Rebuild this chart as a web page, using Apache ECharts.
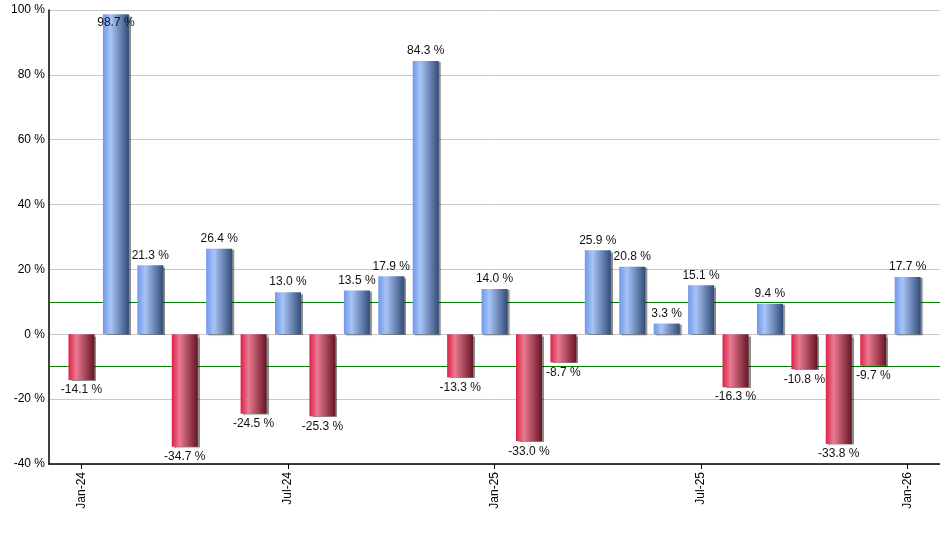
<!DOCTYPE html>
<html>
<head>
<meta charset="utf-8">
<script src="https://cdn.jsdelivr.net/npm/echarts@6/dist/echarts.min.js"></script>
<style>
html,body{margin:0;padding:0;background:#fff;}
#c{width:940px;height:550px;}
</style>
</head>
<body>
<div id="c"></div>
<script>
var months = ['Jan-24','Feb-24','Mar-24','Apr-24','May-24','Jun-24','Jul-24','Aug-24','Sep-24','Oct-24','Nov-24','Dec-24',
  'Jan-25','Feb-25','Mar-25','Apr-25','May-25','Jun-25','Jul-25','Aug-25','Sep-25','Oct-25','Nov-25','Dec-25','Jan-26'];
var values = [-14.1, 98.7, 21.3, -34.7, 26.4, -24.5, 13.0, -25.3, 13.5, 17.9, 84.3, -13.3, 14.0,
  -33.0, -8.7, 25.9, 20.8, 3.3, 15.1, -16.3, 9.4, -10.8, -33.8, -9.7, 17.7];
var tickMonths = ['Jan-24','Jul-24','Jan-25','Jul-25','Jan-26'];
var yTicks = [-40, -20, 0, 20, 40, 60, 80, 100];
var refLines = [10, -10];

var font = 'Liberation Sans, Arial, sans-serif';
var blueGrad = new echarts.graphic.LinearGradient(0,0,1,0,[
  {offset:0,color:'#6f98ea'},{offset:0.3,color:'#a8c4f6'},{offset:1,color:'#324c78'}]);
var redGrad = new echarts.graphic.LinearGradient(0,0,1,0,[
  {offset:0,color:'#dc2048'},{offset:0.3,color:'#ea7a90'},{offset:1,color:'#661424'}]);

var data = values.map(function(v, i){
  var item = {value:[i, v], itemStyle:{color: v >= 0 ? blueGrad : redGrad}};
  if (v > 90) item.label = {position:'insideTop', distance:2};
  else item.label = {position: v >= 0 ? 'top' : 'bottom'};
  return item;
});
var tickIdx = tickMonths.map(function(m){ return months.indexOf(m); });

var chart = echarts.init(document.getElementById('c'), null, {renderer:'canvas'});
chart.setOption({
  animation:false,
  grid:{left:49, right:0, top:10, bottom:86, containLabel:false},
  xAxis:{
    type:'value', min:-0.944, max:24.94,
    splitLine:{show:false},
    axisLine:{show:true, onZero:false, lineStyle:{color:'#000', width:1.5}},
    axisTick:{show:true, customValues:tickIdx, length:5, lineStyle:{color:'#000'}},
    axisLabel:{customValues:tickIdx, rotate:90, margin:8, color:'#000', fontFamily:font, fontSize:12,
      formatter:function(v){ return months[Math.round(v)]; }}
  },
  yAxis:{
    type:'value', min:yTicks[0], max:yTicks[yTicks.length-1], interval:20,
    axisLine:{show:true, onZero:false, lineStyle:{color:'#000', width:1.5}},
    axisTick:{show:false},
    splitLine:{show:true, lineStyle:{color:'#c8c8c8', width:1}},
    axisLabel:{margin:4, color:'#000', fontFamily:font, fontSize:12,
      formatter:function(v){ return v + ' %'; }}
  },
  series:[{
    type:'bar', barWidth:26, z:3,
    data:data,
    itemStyle:{shadowColor:'rgba(0,0,0,0.45)', shadowOffsetX:2, shadowOffsetY:1, shadowBlur:1},
    label:{show:true, distance:4, color:'#111', fontFamily:font, fontSize:12,
      formatter:function(p){ return p.value[1].toFixed(1) + ' %'; }},
    markLine:{
      silent:true, symbol:'none', z:1,
      label:{show:false},
      lineStyle:{color:'#008000', type:'solid', width:1.2},
      data:refLines.map(function(v){ return {yAxis:v}; })
    }
  }]
});
</script>
</body>
</html>
